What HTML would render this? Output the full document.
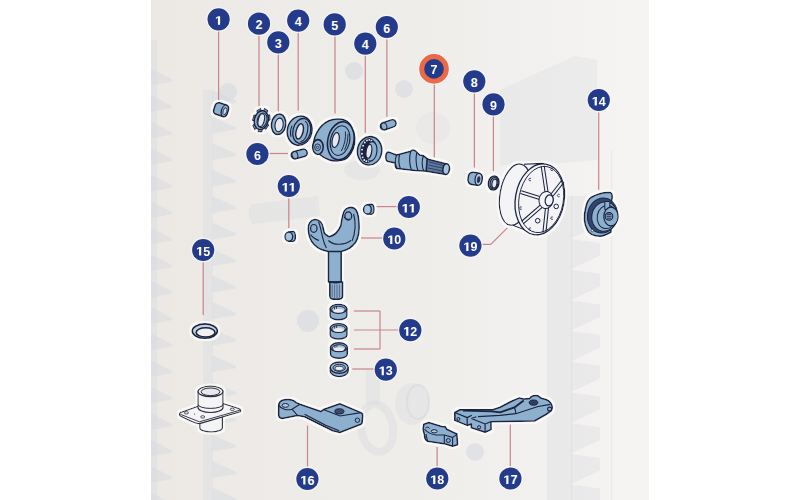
<!DOCTYPE html>
<html><head><meta charset="utf-8"><style>
html,body{margin:0;padding:0;background:#fff;width:800px;height:500px;overflow:hidden}
svg{display:block;font-family:"Liberation Sans",sans-serif}
</style></head><body>
<svg width="800" height="500" viewBox="0 0 800 500">
<defs>
<linearGradient id="bgg" x1="0" y1="0" x2="1" y2="0">
<stop offset="0" stop-color="#ece9e5"/>
<stop offset="0.5" stop-color="#efedea"/>
<stop offset="1" stop-color="#f5f4f3"/>
</linearGradient>
</defs>
<rect x="0" y="0" width="800" height="500" fill="#fff"/>
<rect x="151" y="0" width="498" height="500" fill="url(#bgg)"/>
<path d="M151 68.5 L172 79.5 L172 81.5 L151 85.5 Z M151 95.0 L172 106.0 L172 108.0 L151 112.0 Z M151 121.5 L172 132.5 L172 134.5 L151 138.5 Z M151 148.0 L172 159.0 L172 161.0 L151 165.0 Z M151 174.5 L172 185.5 L172 187.5 L151 191.5 Z M151 201.0 L172 212.0 L172 214.0 L151 218.0 Z M151 227.5 L172 238.5 L172 240.5 L151 244.5 Z M151 254.0 L172 265.0 L172 267.0 L151 271.0 Z M151 280.5 L172 291.5 L172 293.5 L151 297.5 Z M151 307.0 L172 318.0 L172 320.0 L151 324.0 Z M151 333.5 L172 344.5 L172 346.5 L151 350.5 Z M151 360.0 L172 371.0 L172 373.0 L151 377.0 Z M151 386.5 L172 397.5 L172 399.5 L151 403.5 Z M151 413.0 L172 424.0 L172 426.0 L151 430.0 Z M151 439.5 L172 450.5 L172 452.5 L151 456.5 Z M151 466.0 L172 477.0 L172 479.0 L151 483.0 Z M151 492.5 L172 503.5 L172 505.5 L151 509.5 Z" fill="#d6d9df" opacity="0.5"/>
<rect x="151" y="40" width="6" height="460" fill="#d6d9df" opacity="0.35"/>
<path d="M212 90.0 L236 101.0 L236 103.0 L212 107.0 Z M212 116.5 L236 127.5 L236 129.5 L212 133.5 Z M212 143.0 L236 154.0 L236 156.0 L212 160.0 Z M212 169.5 L236 180.5 L236 182.5 L212 186.5 Z M212 196.0 L236 207.0 L236 209.0 L212 213.0 Z M212 222.5 L236 233.5 L236 235.5 L212 239.5 Z M212 249.0 L236 260.0 L236 262.0 L212 266.0 Z M212 275.5 L236 286.5 L236 288.5 L212 292.5 Z M212 302.0 L236 313.0 L236 315.0 L212 319.0 Z M212 328.5 L236 339.5 L236 341.5 L212 345.5 Z M212 355.0 L236 366.0 L236 368.0 L212 372.0 Z M212 381.5 L236 392.5 L236 394.5 L212 398.5 Z M212 408.0 L236 419.0 L236 421.0 L212 425.0 Z M212 434.5 L236 445.5 L236 447.5 L212 451.5 Z M212 461.0 L236 472.0 L236 474.0 L212 478.0 Z M212 487.5 L236 498.5 L236 500.5 L212 504.5 Z" fill="#d6d9df" opacity="0.5"/>
<rect x="203" y="90" width="10" height="410" fill="#d6d9df" opacity="0.35"/>
<path d="M547 196 L600 196 L600 225.0 L570 239.0 L600 243.0 L600 255.7 L570 269.7 L600 273.7 L600 286.4 L570 300.4 L600 304.4 L600 317.1 L570 331.1 L600 335.1 L600 347.8 L570 361.8 L600 365.8 L600 378.5 L570 392.5 L600 396.5 L600 409.2 L570 423.2 L600 427.2 L600 439.9 L570 453.9 L600 457.9 L600 470.6 L570 484.6 L600 488.6 L600 501.3 L570 515.3 L600 519.3 L600 500 L547 500 Z" fill="#d6d9df" opacity="0.35"/>
<rect x="571" y="196" width="1.2" height="304" fill="#d6d9df" opacity="0.5"/>
<rect x="611" y="150" width="1.2" height="350" fill="#d6d9df" opacity="0.4"/>
<path d="M500 90 L575 56 L597 60 L597 160 L540 165 L500 165 Z" fill="#d6d9df" opacity="0.3"/>
<circle cx="228" cy="92" r="9" fill="#d6d9df" opacity="0.6"/>
<circle cx="354" cy="71" r="9" fill="#d6d9df" opacity="0.6"/>
<circle cx="404" cy="89" r="9" fill="#d6d9df" opacity="0.6"/>
<circle cx="475" cy="452" r="9" fill="#d6d9df" opacity="0.6"/>
<circle cx="308" cy="321" r="11" fill="#d6d9df" opacity="0.6"/>
<ellipse cx="377" cy="428" rx="16" ry="24" transform="rotate(-10 377 428)" fill="none" stroke="#d6d9df" stroke-width="8" opacity="0.4"/>
<rect x="366" y="370" width="14" height="35" fill="#d6d9df" opacity="0.35"/>
<ellipse cx="412" cy="404" rx="17" ry="21" fill="#d6d9df" opacity="0.35"/>
<ellipse cx="418" cy="402" rx="11" ry="17" fill="none" stroke="#d6d9df" stroke-width="2" opacity="0.6"/>
<ellipse cx="420" cy="400" rx="12" ry="22" fill="#d6d9df" opacity="0.0"/>
<path d="M254 204 L318 196 L320 216 L254 224 C248 224 246 205 254 204 Z" fill="#d6d9df" opacity="0.35"/>
<ellipse cx="433" cy="128" rx="17" ry="16" fill="#d6d9df" opacity="0.25"/>
<ellipse cx="362" cy="170" rx="18" ry="10" fill="#d6d9df" opacity="0.35"/><line x1="218.6" y1="30" x2="218.6" y2="100" stroke="#c9838a" stroke-width="1.2"/><line x1="259" y1="35" x2="259" y2="108" stroke="#c9838a" stroke-width="1.2"/><line x1="278.3" y1="53" x2="278.3" y2="112" stroke="#c9838a" stroke-width="1.2"/><line x1="298.2" y1="32" x2="298.2" y2="110.5" stroke="#c9838a" stroke-width="1.2"/><line x1="335" y1="36" x2="335" y2="113.6" stroke="#c9838a" stroke-width="1.2"/><line x1="365.3" y1="55" x2="365.3" y2="132.8" stroke="#c9838a" stroke-width="1.2"/><line x1="386.9" y1="38" x2="386.9" y2="116.8" stroke="#c9838a" stroke-width="1.2"/><line x1="434.3" y1="84" x2="434.3" y2="157.7" stroke="#c9838a" stroke-width="1.2"/><line x1="474.4" y1="92" x2="474.4" y2="167.6" stroke="#c9838a" stroke-width="1.2"/><line x1="493.4" y1="115" x2="493.4" y2="171" stroke="#c9838a" stroke-width="1.2"/><line x1="598.7" y1="111" x2="598.7" y2="189.7" stroke="#c9838a" stroke-width="1.2"/><line x1="268" y1="153.5" x2="288" y2="153.5" stroke="#c9838a" stroke-width="1.2"/><line x1="288.8" y1="197" x2="288.8" y2="228" stroke="#c9838a" stroke-width="1.2"/><line x1="375" y1="206.6" x2="398" y2="206.6" stroke="#c9838a" stroke-width="1.2"/><line x1="361" y1="238" x2="383" y2="238" stroke="#c9838a" stroke-width="1.2"/><line x1="354" y1="311" x2="380" y2="311" stroke="#c9838a" stroke-width="1.2"/><line x1="354" y1="330" x2="399" y2="330" stroke="#c9838a" stroke-width="1.2"/><line x1="354" y1="349" x2="380" y2="349" stroke="#c9838a" stroke-width="1.2"/><line x1="380" y1="311" x2="380" y2="349" stroke="#c9838a" stroke-width="1.2"/><line x1="352.3" y1="369" x2="375" y2="369" stroke="#c9838a" stroke-width="1.2"/><line x1="203.2" y1="261" x2="203.2" y2="315" stroke="#c9838a" stroke-width="1.2"/><line x1="307.5" y1="425.6" x2="307.5" y2="468" stroke="#c9838a" stroke-width="1.2"/><line x1="510.3" y1="424.4" x2="510.3" y2="467.6" stroke="#c9838a" stroke-width="1.2"/><line x1="437.1" y1="447" x2="437.1" y2="467.6" stroke="#c9838a" stroke-width="1.2"/><line x1="507.6" y1="227.6" x2="490.8" y2="244.4" stroke="#c9838a" stroke-width="1.2"/><line x1="490.8" y1="244.4" x2="481" y2="244.4" stroke="#c9838a" stroke-width="1.2"/><defs><filter id="halo" x="-5%" y="-5%" width="110%" height="110%"><feMorphology in="SourceAlpha" operator="dilate" radius="1.6" result="d"/><feFlood flood-color="#fbfbfb" flood-opacity="0.85"/><feComposite in2="d" operator="in" result="h"/><feMerge><feMergeNode in="h"/><feMergeNode in="SourceGraphic"/></feMerge></filter></defs><g filter="url(#halo)"><g transform="translate(221.6,109.8) rotate(18)"><rect x="-7.5" y="-6" width="14" height="12" rx="3.5" fill="#8eb0cf" stroke="#1b2440" stroke-width="1.55" stroke-linejoin="round"/><ellipse cx="3.3" cy="0" rx="3.3" ry="6" fill="#8eb0cf" stroke="#1b2440" stroke-width="1.2" stroke-linejoin="round"/><ellipse cx="3.6" cy="0.3" rx="1.8" ry="3.6" fill="#c8d8e6" stroke="#1b2440" stroke-width="0.8"/></g>
<g transform="translate(261.3,120.1) rotate(14)"><g transform="scale(0.72,1)"><rect x="-2.7" y="-11.8" width="5.4" height="4.2" transform="rotate(15.0)" fill="#8eb0cf" stroke="#1b2440" stroke-width="1.2" stroke-linejoin="round"/><rect x="-2.7" y="-11.8" width="5.4" height="4.2" transform="rotate(66.4)" fill="#8eb0cf" stroke="#1b2440" stroke-width="1.2" stroke-linejoin="round"/><rect x="-2.7" y="-11.8" width="5.4" height="4.2" transform="rotate(117.9)" fill="#8eb0cf" stroke="#1b2440" stroke-width="1.2" stroke-linejoin="round"/><rect x="-2.7" y="-11.8" width="5.4" height="4.2" transform="rotate(169.3)" fill="#8eb0cf" stroke="#1b2440" stroke-width="1.2" stroke-linejoin="round"/><rect x="-2.7" y="-11.8" width="5.4" height="4.2" transform="rotate(220.7)" fill="#8eb0cf" stroke="#1b2440" stroke-width="1.2" stroke-linejoin="round"/><rect x="-2.7" y="-11.8" width="5.4" height="4.2" transform="rotate(272.1)" fill="#8eb0cf" stroke="#1b2440" stroke-width="1.2" stroke-linejoin="round"/><rect x="-2.7" y="-11.8" width="5.4" height="4.2" transform="rotate(323.6)" fill="#8eb0cf" stroke="#1b2440" stroke-width="1.2" stroke-linejoin="round"/></g><ellipse cx="0" cy="0" rx="7" ry="9.6" fill="#8eb0cf" stroke="#1b2440" stroke-width="1.55" stroke-linejoin="round"/><ellipse cx="0.8" cy="0" rx="4.8" ry="7.4" fill="none" stroke="#1b2440" stroke-width="1"/><ellipse cx="0" cy="0" rx="3" ry="6.6" fill="#e6e8ee" stroke="#1b2440" stroke-width="1.1"/></g>
<g transform="translate(278.6,124.3) rotate(8)"><ellipse cx="0" cy="0" rx="7.2" ry="10.3" fill="#8eb0cf" stroke="#1b2440" stroke-width="1.55" stroke-linejoin="round"/><ellipse cx="0.6" cy="0.6" rx="4.1" ry="6.9" fill="#e6e8ee" stroke="#1b2440" stroke-width="1.1"/></g>
<g transform="translate(299.6,130.6) rotate(14)"><ellipse cx="0" cy="0" rx="12.3" ry="14.8" fill="#8eb0cf" stroke="#1b2440" stroke-width="1.55" stroke-linejoin="round"/><ellipse cx="2.2" cy="-0.2" rx="8.8" ry="12.6" fill="none" stroke="#1b2440" stroke-width="1.3"/><path d="M3 -10.5 C9 -9, 10 8, 3.5 10.6" fill="none" stroke="#1b2440" stroke-width="1.1"/><path d="M-8.5 -3 C-9.2 1, -8.6 5, -6.8 8" fill="none" stroke="#1b2440" stroke-width="1.1"/><ellipse cx="0.2" cy="0.8" rx="3.5" ry="7.8" fill="#e6e8ee" stroke="#1b2440" stroke-width="1.4"/></g>
<path d="M313.5 146 C313 138, 318 126, 328.8 120.8 C334 118.6, 341 118.4, 345 120.3 C350 122, 354.4 130, 354.8 138 C355 145, 352 153, 347.5 157.7 C343.5 161, 334 162, 328.8 159.8 C325 158.5, 322 156.5, 319 154 Z" fill="#8eb0cf" stroke="#1b2440" stroke-width="1.55" stroke-linejoin="round"/><g transform="translate(340.8,140.8) rotate(12)"><ellipse cx="0" cy="0" rx="13" ry="19.2" fill="#8eb0cf" stroke="#1b2440" stroke-width="1.55" stroke-linejoin="round"/><ellipse cx="-0.8" cy="0" rx="9.6" ry="15" fill="none" stroke="#1b2440" stroke-width="1.1"/><path d="M2.5 -10 C4.5 -4, 4.5 4, 2.5 10 M5.6 -8 C6.8 -3, 6.8 3, 5.6 8" fill="none" stroke="#1b2440" stroke-width="0.9"/><ellipse cx="-5.2" cy="0.3" rx="3.4" ry="7.6" fill="#e6e8ee" stroke="#1b2440" stroke-width="1.2"/></g><ellipse cx="317.9" cy="147" rx="5.3" ry="7.4" fill="#8eb0cf" stroke="#1b2440" stroke-width="1.55" stroke-linejoin="round"/><ellipse cx="317.6" cy="147.3" rx="2.9" ry="3.4" fill="none" stroke="#1b2440" stroke-width="0.9"/><circle cx="317.5" cy="147.4" r="1.2" fill="none" stroke="#1b2440" stroke-width="0.7"/>
<g transform="translate(369.6,150.8) rotate(8)"><ellipse cx="0" cy="0" rx="12.2" ry="14.3" fill="#8eb0cf" stroke="#1b2440" stroke-width="1.55" stroke-linejoin="round"/><ellipse cx="-1.4" cy="0" rx="8" ry="12.6" fill="#1b2440"/><circle cx="0.45" cy="10.15" r="0.95" fill="#e4e9f0"/><circle cx="-1.81" cy="10.79" r="0.95" fill="#e4e9f0"/><circle cx="-4.04" cy="9.87" r="0.95" fill="#e4e9f0"/><circle cx="-5.92" cy="7.50" r="0.95" fill="#e4e9f0"/><circle cx="-7.16" cy="4.05" r="0.95" fill="#e4e9f0"/><circle cx="-7.60" cy="0.00" r="0.95" fill="#e4e9f0"/><circle cx="-7.16" cy="-4.05" r="0.95" fill="#e4e9f0"/><circle cx="-5.92" cy="-7.50" r="0.95" fill="#e4e9f0"/><circle cx="-4.04" cy="-9.87" r="0.95" fill="#e4e9f0"/><circle cx="-1.81" cy="-10.79" r="0.95" fill="#e4e9f0"/><circle cx="0.45" cy="-10.15" r="0.95" fill="#e4e9f0"/><ellipse cx="1.8" cy="0.3" rx="5.6" ry="9.8" fill="#8eb0cf" stroke="#1b2440" stroke-width="1.1"/><ellipse cx="-0.6" cy="0.6" rx="2.8" ry="7" fill="#e6e8ee" stroke="#1b2440" stroke-width="1.2"/></g>
<g transform="translate(388.2,124.8) rotate(-19)"><rect x="-8.100000000000001" y="-3.7" width="16.200000000000003" height="7.4" rx="3.7" fill="#8eb0cf" stroke="#1b2440" stroke-width="1.55" stroke-linejoin="round"/><ellipse cx="-4.4" cy="0" rx="2.7750000000000004" ry="3.515" fill="#8eb0cf" stroke="#1b2440" stroke-width="1.0" stroke-linejoin="round"/></g>
<g transform="translate(299.2,154.0) rotate(-15)"><rect x="-8.2" y="-3.8" width="16.4" height="7.6" rx="3.8" fill="#8eb0cf" stroke="#1b2440" stroke-width="1.55" stroke-linejoin="round"/><ellipse cx="-4.4" cy="0" rx="2.8499999999999996" ry="3.61" fill="#8eb0cf" stroke="#1b2440" stroke-width="1.0" stroke-linejoin="round"/></g>
<path d="M385.8 157 C385.6 153.5 387 152 389 152.1 L396.6 155 L410.6 151.3 C411.8 149.8 413.8 149.6 415.2 150.8 L419.8 155 L423.6 155.8 L427.5 158.8 L427.5 171.2 L414.6 170.4 L397 168.6 C395.6 168 395 165 395.2 162.9 L388.2 161.6 C386.6 161.2 385.8 159.4 385.8 157 Z" fill="#8eb0cf" stroke="#1b2440" stroke-width="1.55" stroke-linejoin="round"/><path d="M427.2 158.9 L446.8 163.9 L446 174.4 L426.2 171.3 Z" fill="#5d7aa0" stroke="#1b2440" stroke-width="1.55" stroke-linejoin="round"/><path d="M429 162 L444 165.6 M428.6 165 L444 168.4 M428.2 168 L443.6 171.4" stroke="#2c3960" stroke-width="0.9" fill="none"/><ellipse cx="446.2" cy="169.2" rx="3.3" ry="5.4" transform="rotate(8 446.2 169.2)" fill="#a8c4dd" stroke="#1b2440" stroke-width="1.55"/><path d="M396.6 155 C395 159 395.2 165 397 168.6 M399.6 154.3 C398.4 159 398.6 164 400.4 168.8 M410.6 151.3 C409.2 157 409.4 164 411.4 170.2 M416.6 152.8 C415.6 159 416 165 418 170.7 M423.4 156 C421.6 160 421.8 167 423.8 171" fill="none" stroke="#1b2440" stroke-width="1.1"/>
<g transform="translate(475.3,178.8) rotate(8)"><rect x="-7.2" y="-6.2" width="14" height="12.4" rx="4.5" fill="#8eb0cf" stroke="#1b2440" stroke-width="1.55" stroke-linejoin="round"/><ellipse cx="3.3" cy="0" rx="3.5" ry="6" fill="#b3cade" stroke="#1b2440" stroke-width="1.2"/><ellipse cx="3.4" cy="0.4" rx="1.7" ry="3.4" fill="#2a3558"/></g>
<g transform="translate(493.7,183) rotate(10)"><ellipse cx="0" cy="0" rx="5.3" ry="7.1" fill="#a5c1db" stroke="#1b2440" stroke-width="1.6"/><ellipse cx="0.4" cy="0.2" rx="3.9" ry="5.8" fill="none" stroke="#1b2440" stroke-width="1.1"/><ellipse cx="0.8" cy="0.4" rx="2.5" ry="4.5" fill="#e6e8ee" stroke="#1b2440" stroke-width="1.2"/></g>
<path d="M524 164 L543.5 163.4 L538.6 235.2 L512.6 225.2 Z" fill="#f4f4f6"/><ellipse cx="515.4" cy="194.6" rx="15.4" ry="31" transform="rotate(10 515.4 194.6)" fill="#f4f4f6" stroke="#1b2440" stroke-width="1.2"/><path d="M524 164.1 L543.5 163.4 M512.6 225.2 L538.6 235.2" stroke="#1b2440" stroke-width="1.2" fill="none"/><ellipse cx="539.8" cy="199.3" rx="24.4" ry="35.8" transform="rotate(10 539.8 199.3)" fill="#f4f4f6" stroke="#1b2440" stroke-width="1.3"/><ellipse cx="541.2" cy="199.5" rx="22.2" ry="33.4" transform="rotate(10 541.2 199.5)" fill="none" stroke="#1b2440" stroke-width="0.9"/><path d="M548.33 193.85 L544.18 165.78 M545.37 194.29 L541.22 166.22" stroke="#1b2440" stroke-width="1.05" fill="none"/><path d="M552.99 196.30 L564.08 182.12 M550.62 194.46 L561.72 180.28" stroke="#1b2440" stroke-width="1.05" fill="none"/><path d="M542.04 197.13 L521.35 190.67 M541.15 199.99 L520.45 193.53" stroke="#1b2440" stroke-width="1.05" fill="none"/><path d="M541.91 203.63 L521.62 221.27 M543.88 205.90 L523.58 223.53" stroke="#1b2440" stroke-width="1.05" fill="none"/><path d="M545.62 206.81 L542.91 232.34 M548.60 207.12 L545.89 232.66" stroke="#1b2440" stroke-width="1.05" fill="none"/><path d="M552.9 168.4 A1.3 1.3 0 1 0 552.9 170.4" fill="none" stroke="#1b2440" stroke-width="0.8"/><path d="M531.0 178.5 A1.3 1.3 0 1 0 531.0 180.5" fill="none" stroke="#1b2440" stroke-width="0.8"/><path d="M559.6 194.5 A1.3 1.3 0 1 0 559.6 196.5" fill="none" stroke="#1b2440" stroke-width="0.8"/><path d="M521.8 207.1 A1.3 1.3 0 1 0 521.8 209.1" fill="none" stroke="#1b2440" stroke-width="0.8"/><path d="M552.9 217.2 A1.3 1.3 0 1 0 552.9 219.2" fill="none" stroke="#1b2440" stroke-width="0.8"/><path d="M531.0 228.1 A1.3 1.3 0 1 0 531.0 230.1" fill="none" stroke="#1b2440" stroke-width="0.8"/><ellipse cx="546" cy="200" rx="7" ry="8.6" transform="rotate(10 546 200)" fill="#f4f4f6" stroke="#1b2440" stroke-width="1"/><ellipse cx="549.2" cy="200.4" rx="4" ry="5.6" transform="rotate(10 549.2 200.4)" fill="#f4f4f6" stroke="#1b2440" stroke-width="1.2"/><circle cx="556.2" cy="206.4" r="2.3" fill="#f4f4f6" stroke="#1b2440" stroke-width="1"/><circle cx="537.7" cy="220.7" r="2.3" fill="#f4f4f6" stroke="#1b2440" stroke-width="1"/>
<path d="M591.4 197.2 C598 193.5 605 192 610.5 192.6 C612.5 193.5 612.5 197 611.6 200.6 L611 232 C607 234.5 603 236 600 236.2 C594 236 589 233.8 587.4 230 C584 224 583.6 216 585.6 208 C586.6 203 588.4 199 591.4 197.2 Z" fill="#8eb0cf" stroke="#1b2440" stroke-width="1.55" stroke-linejoin="round"/><ellipse cx="602.5" cy="215.5" rx="15" ry="17.6" transform="rotate(10 602.5 215.5)" fill="#34446f" stroke="#1b2440" stroke-width="1"/><ellipse cx="604.6" cy="216.6" rx="12.8" ry="14.8" transform="rotate(10 604.6 216.6)" fill="#8eb0cf" stroke="#1b2440" stroke-width="1" stroke-linejoin="round"/><ellipse cx="606.8" cy="217" rx="9.6" ry="11.6" transform="rotate(10 606.8 217)" fill="none" stroke="#1b2440" stroke-width="1"/><rect x="604.8" y="201.5" width="5" height="8" fill="#8eb0cf" stroke="#1b2440" stroke-width="1" stroke-linejoin="round"/><ellipse cx="611" cy="216.5" rx="7.2" ry="9.4" fill="#8eb0cf" stroke="#1b2440" stroke-width="1.2" stroke-linejoin="round"/><circle cx="609" cy="216.4" r="3.8" fill="#7495b8" stroke="#1b2440" stroke-width="1.1"/><path d="M607 214.5 L611 214.5 M606.6 216.4 L611.4 216.4 M607 218.3 L611 218.3" stroke="#1b2440" stroke-width="0.7"/><circle cx="592.3" cy="230.6" r="1.2" fill="#e6e8ee" stroke="#1b2440" stroke-width="0.6"/>
<g transform="translate(290.6,236.6)"><path d="M-2 -4.6 L2.2 -5.2 C5.5 -5.2 5.8 4.6 2.4 4.8 L-2 4.6 Z" fill="#8eb0cf" stroke="#1b2440" stroke-width="1.4" stroke-linejoin="round"/><ellipse cx="-1.8" cy="0" rx="3.9" ry="4.6" fill="#a6c3dc" stroke="#1b2440" stroke-width="1.4"/></g>
<g transform="translate(369.2,209.4)"><path d="M-2 -4.6 L2.2 -5.2 C5.5 -5.2 5.8 4.6 2.4 4.8 L-2 4.6 Z" fill="#8eb0cf" stroke="#1b2440" stroke-width="1.4" stroke-linejoin="round"/><ellipse cx="-1.8" cy="0" rx="3.9" ry="4.6" fill="#a6c3dc" stroke="#1b2440" stroke-width="1.4"/></g>
<path d="M328.4 251 L341.2 251 L341.2 282 L328.4 282 Z" fill="#8eb0cf" stroke="#1b2440" stroke-width="1.55" stroke-linejoin="round"/><path d="M329.8 282 L342.6 282 L342.6 296 C342.6 299 340.6 299.2 336.2 299.2 C331.8 299.2 329.8 299 329.8 296 Z" fill="#93b3d0" stroke="#1b2440" stroke-width="1.55"/><path d="M332.2 284.5 V297 M334.6 284.5 V297.8 M337 284.5 V298 M339.4 284.5 V297.6" stroke="#3a4870" stroke-width="0.7"/><path d="M328.4 281.4 C330 283.4 340 283.4 341.2 281.4" fill="none" stroke="#1b2440" stroke-width="1.1"/><path d="M314.8 219.6 C310.5 220 307.8 224 308.2 229 C308.6 236 310.6 241 314 244.5 C318 248.5 323.5 250.8 328.4 251.4 L341.2 251.4 C347 250.5 352 247 355.5 242.5 C359 237 359.5 228 359 222 C358.6 215 357 209.5 353.8 208 C350.5 206.6 346 207.6 344.2 211 C342.6 214 341.6 220 340.8 225.6 C338.5 231 334 235.5 329.8 236.6 C327.6 236.8 326.3 234.8 324.4 233.2 L323.2 228 C322.6 223.5 319.8 219.4 314.8 219.6 Z" fill="#8eb0cf" stroke="#1b2440" stroke-width="1.55" stroke-linejoin="round"/><ellipse cx="313.8" cy="228.4" rx="3.2" ry="3.9" fill="#8eb0cf" stroke="#1b2440" stroke-width="1.2" stroke-linejoin="round"/><ellipse cx="348.3" cy="216" rx="3.4" ry="4.2" fill="#8eb0cf" stroke="#1b2440" stroke-width="1.2" stroke-linejoin="round"/><path d="M318.5 221.5 C322 230 322 241 326.5 248 M310.6 234.6 C313 238 316.6 239.6 319 240.5 M328.4 240.5 C334 246 345 245 351 240.5 M353.6 214 C356 222 355.6 233 352 241 M344 216.8 C345 219 348 219.6 350 219" fill="none" stroke="#1b2440" stroke-width="1.1"/>
<g transform="translate(338.5,312.2)"><path d="M-8.4 -3.4 L-8.4 3.6 A8.4 4 0 0 0 8.4 3.6 L8.4 -3.4 Z" fill="#8eb0cf" stroke="#1b2440" stroke-width="1.4" stroke-linejoin="round"/><ellipse cx="0" cy="-3.4" rx="8.4" ry="4.4" fill="#86a8c8" stroke="#1b2440" stroke-width="1.4"/><ellipse cx="0" cy="-2.6" rx="6.8" ry="3.3" fill="#a8c3dc" stroke="#1b2440" stroke-width="0.9"/><ellipse cx="0" cy="-1.4" rx="5.2" ry="1.9" fill="#f1e8ea"/><path d="M-4 -5.6 V-2.8 M-2 -5.9 V-3.4" stroke="#1b2440" stroke-width="0.8"/></g>
<g transform="translate(338.6,331.4)"><path d="M-8.4 -3.4 L-8.4 3.6 A8.4 4 0 0 0 8.4 3.6 L8.4 -3.4 Z" fill="#8eb0cf" stroke="#1b2440" stroke-width="1.4" stroke-linejoin="round"/><ellipse cx="0" cy="-3.4" rx="8.4" ry="4.4" fill="#86a8c8" stroke="#1b2440" stroke-width="1.4"/><ellipse cx="0" cy="-2.6" rx="6.8" ry="3.3" fill="#a8c3dc" stroke="#1b2440" stroke-width="0.9"/><ellipse cx="0" cy="-1.4" rx="5.2" ry="1.9" fill="#f1e8ea"/><path d="M-4 -5.6 V-2.8 M-2 -5.9 V-3.4" stroke="#1b2440" stroke-width="0.8"/></g>
<g transform="translate(338.9,350.6)"><path d="M-8.4 -3.4 L-8.4 3.6 A8.4 4 0 0 0 8.4 3.6 L8.4 -3.4 Z" fill="#8eb0cf" stroke="#1b2440" stroke-width="1.4" stroke-linejoin="round"/><ellipse cx="0" cy="-3.4" rx="8.4" ry="4.4" fill="#86a8c8" stroke="#1b2440" stroke-width="1.4"/><ellipse cx="0" cy="-2.6" rx="6.8" ry="3.3" fill="#a8c3dc" stroke="#1b2440" stroke-width="0.9"/><ellipse cx="0" cy="-1.4" rx="5.2" ry="1.9" fill="#f1e8ea"/><path d="M-4 -5.6 V-2.8 M-2 -5.9 V-3.4" stroke="#1b2440" stroke-width="0.8"/></g>
<g transform="translate(339.2,367.6)"><path d="M-9 0 L-9 3.4 A9 5.6 0 0 0 9 3.4 L9 0 Z" fill="#8eb0cf" stroke="#1b2440" stroke-width="1.4" stroke-linejoin="round"/><ellipse cx="0" cy="0" rx="9" ry="5.6" fill="#a6c2dc" stroke="#1b2440" stroke-width="1.4"/><ellipse cx="0" cy="0.2" rx="6.2" ry="3.6" fill="#86a8c8" stroke="#1b2440" stroke-width="1"/><ellipse cx="0" cy="0.8" rx="4.2" ry="2.1" fill="#f1eef0" stroke="#1b2440" stroke-width="0.8"/></g>
<ellipse cx="204.8" cy="331.1" rx="12.6" ry="7.2" fill="#c0d3e3" stroke="#1b2440" stroke-width="1.6"/><ellipse cx="205.6" cy="332.4" rx="9.4" ry="4.6" fill="#f2f0f0" stroke="#1b2440" stroke-width="1.6"/>
<path d="M199.8 418 L199.8 428 A11.3 4 0 0 0 222.4 428 L222.4 416 Z" fill="#f4f4f6" stroke="#2a2d3a" stroke-width="1.1"/><path d="M180.6 412.6 L198 406.2 L223 403.4 L238.7 408.6 C241 409.3 241 411.3 240.4 411.8 L199.5 423.6 C197 424.3 182 417 180.4 416 C179 415 179.2 413.3 180.6 412.6 Z" fill="#f4f4f6" stroke="#2a2d3a" stroke-width="1.1" stroke-linejoin="round"/><path d="M180.4 414.3 L199.4 421.8 L240.6 410" fill="none" stroke="#2a2d3a" stroke-width="0.9"/><path d="M198 391.4 L198 407.5 A12.5 5 0 0 0 223 407.5 L223 391.4 Z" fill="#f4f4f6" stroke="#2a2d3a" stroke-width="1.1"/><ellipse cx="210.5" cy="391.4" rx="12.5" ry="5.2" fill="#f4f4f6" stroke="#2a2d3a" stroke-width="1.2"/><ellipse cx="210.5" cy="391.8" rx="9.4" ry="3.8" fill="#e6e8ee" stroke="#2a2d3a" stroke-width="1"/><path d="M198 404.4 A12.5 4 0 0 0 223 404.4" fill="none" stroke="#2a2d3a" stroke-width="1"/><ellipse cx="186.4" cy="412.8" rx="2" ry="1.2" fill="none" stroke="#2a2d3a" stroke-width="0.8"/><ellipse cx="202.7" cy="416.9" rx="2" ry="1.2" fill="none" stroke="#2a2d3a" stroke-width="0.8"/><ellipse cx="232.3" cy="409.3" rx="2" ry="1.2" fill="none" stroke="#2a2d3a" stroke-width="0.8"/><circle cx="194.5" cy="414" r="0.6" fill="#2a2d3a"/>
<path d="M282.2 400.2 C286 399 292 399.6 294 400.8 L296.3 402.6 L299.9 404.3 L321 411.4 L323.4 409.6 L339.8 403.8 L361 412.6 C362.8 413.4 362.8 415 362.7 416 L362.1 423.1 L361 424.3 L339.8 432.5 L332.8 430.8 L325.7 427.3 L304.6 416.7 L297.5 415.5 L282.2 418.4 C279.5 418 278.4 416 278.6 414 L278.7 404.9 C279 402.6 280.4 401 282.2 400.2 Z" fill="#8eb0cf" stroke="#1b2440" stroke-width="1.55" stroke-linejoin="round"/><path d="M279 405.6 C281 409 287 410.6 292 409.2 L299.9 404.3 M292 409.2 L297.5 415.5 M304.6 414.2 L325.7 425.2 L339.2 430.8 M323.4 409.6 L340 416 L361 412.6" fill="none" stroke="#1b2440" stroke-width="1.1"/><ellipse cx="285.4" cy="405.4" rx="3.3" ry="1.9" fill="#b5cce0" stroke="#1b2440" stroke-width="1"/><ellipse cx="339.4" cy="411.4" rx="4.6" ry="2.6" fill="#3a4870" stroke="#1b2440" stroke-width="1"/><circle cx="357.4" cy="420.2" r="2.2" fill="none" stroke="#1b2440" stroke-width="1"/>
<path d="M454.8 412.5 L459.8 409.8 L492.5 409.8 L500 407.3 L512 401 L519.4 397.9 L523.7 399 L529.5 398.6 C531 396 535 394.8 538.1 395.8 L541.4 398.3 L546 399.4 C549 400.5 551.5 403 552.2 406.5 C552.5 408.5 552 410 551.1 410.9 L546 414.5 L534.5 421 L491 421.7 L491.1 429.6 L485.1 432.3 L471.3 427.7 L471.3 424 L467.2 425.4 L454.8 420.4 Z" fill="#8eb0cf" stroke="#1b2440" stroke-width="1.55" stroke-linejoin="round"/><path d="M463 410.6 L492 411.4 L500 412.4 L514.4 407.4 L523.7 400.4" fill="none" stroke="#1b2440" stroke-width="1.9" stroke-linejoin="round"/><path d="M454.8 412.5 L467.2 417.6 L467.2 425.4 M467.2 417.6 L471.8 415.3 M471.3 418.5 L476.4 416.7 M471.3 418.5 L485.1 424 L490.6 421.7 M485.1 424 L485.1 432.3 M514.4 407.4 C515.4 409.5 515.8 411.5 515.8 413.7 M478 416.6 L500 415.4 L515.8 413.7 L538.1 406.5 L550.4 404.4" fill="none" stroke="#1b2440" stroke-width="1.2" stroke-linejoin="round"/><ellipse cx="533.5" cy="402.6" rx="4.3" ry="2.6" fill="#2f3c63" stroke="#1b2440" stroke-width="1"/><circle cx="549.6" cy="409.1" r="2" fill="none" stroke="#1b2440" stroke-width="1.1"/><circle cx="458.4" cy="419" r="1.5" fill="none" stroke="#1b2440" stroke-width="1"/><circle cx="479.1" cy="427.3" r="1.6" fill="none" stroke="#1b2440" stroke-width="1"/>
<path d="M423.8 424.3 L428.8 422.5 L441.8 426.4 L445.4 426.8 L446.8 429.3 L456.9 434 L457.6 444.8 L452.6 446.2 L445.4 444.1 L427.4 441.2 C425.5 440 424.5 437 424.5 435.4 L423 429 Z" fill="#8eb0cf" stroke="#1b2440" stroke-width="1.55" stroke-linejoin="round"/><path d="M424.5 429 C427 432 431 434.5 436 435 L444.3 435 L452.6 437.4 L457 434.4 M444.3 435 L444.3 444 M452.6 437.4 L452.6 446 M426 434 L427.4 441.2" fill="none" stroke="#1b2440" stroke-width="1.1"/><ellipse cx="434.2" cy="431.3" rx="3" ry="1.6" fill="#b5cce0" stroke="#1b2440" stroke-width="1"/><circle cx="448.3" cy="440.5" r="2" fill="none" stroke="#1b2440" stroke-width="1"/><path d="M425.4 428 C427 426.6 429 427 429.5 428.6" fill="none" stroke="#1b2440" stroke-width="1"/></g><circle cx="218.6" cy="19.3" r="12.4" fill="#f6f6f6" opacity="0.9"/><circle cx="218.6" cy="19.3" r="11.1" fill="#233b8a"/><path d="M460 0 L820 0 L820 1409 L500 1409 L120 1175 L120 955 L460 1150 Z" transform="translate(215.12,24.80) scale(0.00610,-0.00610)" fill="#fff"/><circle cx="259" cy="23.7" r="12.4" fill="#f6f6f6" opacity="0.9"/><circle cx="259" cy="23.7" r="11.1" fill="#233b8a"/><text x="255.52" y="29.20" font-size="12.5" font-weight="bold" fill="#fff">2</text><circle cx="278.3" cy="42.4" r="12.4" fill="#f6f6f6" opacity="0.9"/><circle cx="278.3" cy="42.4" r="11.1" fill="#233b8a"/><text x="274.82" y="47.90" font-size="12.5" font-weight="bold" fill="#fff">3</text><circle cx="298.2" cy="20.6" r="12.4" fill="#f6f6f6" opacity="0.9"/><circle cx="298.2" cy="20.6" r="11.1" fill="#233b8a"/><text x="294.72" y="26.10" font-size="12.5" font-weight="bold" fill="#fff">4</text><circle cx="334.7" cy="24.4" r="12.4" fill="#f6f6f6" opacity="0.9"/><circle cx="334.7" cy="24.4" r="11.1" fill="#233b8a"/><text x="331.22" y="29.90" font-size="12.5" font-weight="bold" fill="#fff">5</text><circle cx="365.3" cy="43.6" r="12.4" fill="#f6f6f6" opacity="0.9"/><circle cx="365.3" cy="43.6" r="11.1" fill="#233b8a"/><text x="361.82" y="49.10" font-size="12.5" font-weight="bold" fill="#fff">4</text><circle cx="386.8" cy="27" r="12.4" fill="#f6f6f6" opacity="0.9"/><circle cx="386.8" cy="27" r="11.1" fill="#233b8a"/><text x="383.32" y="32.50" font-size="12.5" font-weight="bold" fill="#fff">6</text><circle cx="474.3" cy="81.3" r="12.4" fill="#f6f6f6" opacity="0.9"/><circle cx="474.3" cy="81.3" r="11.1" fill="#233b8a"/><text x="470.82" y="86.80" font-size="12.5" font-weight="bold" fill="#fff">8</text><circle cx="493.5" cy="104.3" r="12.4" fill="#f6f6f6" opacity="0.9"/><circle cx="493.5" cy="104.3" r="11.1" fill="#233b8a"/><text x="490.02" y="109.80" font-size="12.5" font-weight="bold" fill="#fff">9</text><circle cx="598.8" cy="100" r="12.4" fill="#f6f6f6" opacity="0.9"/><circle cx="598.8" cy="100" r="11.1" fill="#233b8a"/><path d="M460 0 L820 0 L820 1409 L500 1409 L120 1175 L120 955 L460 1150 Z" transform="translate(591.85,105.50) scale(0.00610,-0.00610)" fill="#fff"/><text x="598.80" y="105.50" font-size="12.5" font-weight="bold" fill="#fff">4</text><circle cx="257.4" cy="154" r="12.4" fill="#f6f6f6" opacity="0.9"/><circle cx="257.4" cy="154" r="11.1" fill="#233b8a"/><text x="253.92" y="159.50" font-size="12.5" font-weight="bold" fill="#fff">6</text><circle cx="288.8" cy="186" r="12.4" fill="#f6f6f6" opacity="0.9"/><circle cx="288.8" cy="186" r="11.1" fill="#233b8a"/><path d="M460 0 L820 0 L820 1409 L500 1409 L120 1175 L120 955 L460 1150 Z" transform="translate(281.85,191.50) scale(0.00610,-0.00610)" fill="#fff"/><path d="M460 0 L820 0 L820 1409 L500 1409 L120 1175 L120 955 L460 1150 Z" transform="translate(288.80,191.50) scale(0.00610,-0.00610)" fill="#fff"/><circle cx="408.8" cy="207" r="12.4" fill="#f6f6f6" opacity="0.9"/><circle cx="408.8" cy="207" r="11.1" fill="#233b8a"/><path d="M460 0 L820 0 L820 1409 L500 1409 L120 1175 L120 955 L460 1150 Z" transform="translate(401.85,212.50) scale(0.00610,-0.00610)" fill="#fff"/><path d="M460 0 L820 0 L820 1409 L500 1409 L120 1175 L120 955 L460 1150 Z" transform="translate(408.80,212.50) scale(0.00610,-0.00610)" fill="#fff"/><circle cx="394.3" cy="238.5" r="12.4" fill="#f6f6f6" opacity="0.9"/><circle cx="394.3" cy="238.5" r="11.1" fill="#233b8a"/><path d="M460 0 L820 0 L820 1409 L500 1409 L120 1175 L120 955 L460 1150 Z" transform="translate(387.35,244.00) scale(0.00610,-0.00610)" fill="#fff"/><text x="394.30" y="244.00" font-size="12.5" font-weight="bold" fill="#fff">0</text><circle cx="410.3" cy="330.2" r="12.4" fill="#f6f6f6" opacity="0.9"/><circle cx="410.3" cy="330.2" r="11.1" fill="#233b8a"/><path d="M460 0 L820 0 L820 1409 L500 1409 L120 1175 L120 955 L460 1150 Z" transform="translate(403.35,335.70) scale(0.00610,-0.00610)" fill="#fff"/><text x="410.30" y="335.70" font-size="12.5" font-weight="bold" fill="#fff">2</text><circle cx="385.8" cy="369.7" r="12.4" fill="#f6f6f6" opacity="0.9"/><circle cx="385.8" cy="369.7" r="11.1" fill="#233b8a"/><path d="M460 0 L820 0 L820 1409 L500 1409 L120 1175 L120 955 L460 1150 Z" transform="translate(378.85,375.20) scale(0.00610,-0.00610)" fill="#fff"/><text x="385.80" y="375.20" font-size="12.5" font-weight="bold" fill="#fff">3</text><circle cx="203.2" cy="250" r="12.4" fill="#f6f6f6" opacity="0.9"/><circle cx="203.2" cy="250" r="11.1" fill="#233b8a"/><path d="M460 0 L820 0 L820 1409 L500 1409 L120 1175 L120 955 L460 1150 Z" transform="translate(196.25,255.50) scale(0.00610,-0.00610)" fill="#fff"/><text x="203.20" y="255.50" font-size="12.5" font-weight="bold" fill="#fff">5</text><circle cx="307.4" cy="479" r="12.4" fill="#f6f6f6" opacity="0.9"/><circle cx="307.4" cy="479" r="11.1" fill="#233b8a"/><path d="M460 0 L820 0 L820 1409 L500 1409 L120 1175 L120 955 L460 1150 Z" transform="translate(300.45,484.50) scale(0.00610,-0.00610)" fill="#fff"/><text x="307.40" y="484.50" font-size="12.5" font-weight="bold" fill="#fff">6</text><circle cx="437.3" cy="478.5" r="12.4" fill="#f6f6f6" opacity="0.9"/><circle cx="437.3" cy="478.5" r="11.1" fill="#233b8a"/><path d="M460 0 L820 0 L820 1409 L500 1409 L120 1175 L120 955 L460 1150 Z" transform="translate(430.35,484.00) scale(0.00610,-0.00610)" fill="#fff"/><text x="437.30" y="484.00" font-size="12.5" font-weight="bold" fill="#fff">8</text><circle cx="510.4" cy="478.5" r="12.4" fill="#f6f6f6" opacity="0.9"/><circle cx="510.4" cy="478.5" r="11.1" fill="#233b8a"/><path d="M460 0 L820 0 L820 1409 L500 1409 L120 1175 L120 955 L460 1150 Z" transform="translate(503.45,484.00) scale(0.00610,-0.00610)" fill="#fff"/><text x="510.40" y="484.00" font-size="12.5" font-weight="bold" fill="#fff">7</text><circle cx="470.4" cy="245.6" r="12.4" fill="#f6f6f6" opacity="0.9"/><circle cx="470.4" cy="245.6" r="11.1" fill="#233b8a"/><path d="M460 0 L820 0 L820 1409 L500 1409 L120 1175 L120 955 L460 1150 Z" transform="translate(463.45,251.10) scale(0.00610,-0.00610)" fill="#fff"/><text x="470.40" y="251.10" font-size="12.5" font-weight="bold" fill="#fff">9</text><circle cx="434" cy="68.9" r="15.8" fill="#f6f6f6" opacity="0.9"/><circle cx="434" cy="68.9" r="14.8" fill="#eb6946"/><circle cx="434" cy="68.9" r="9.8" fill="#233b8a"/><text x="430.52" y="74.40" font-size="12.5" font-weight="bold" fill="#fff">7</text>
</svg>
</body></html>
